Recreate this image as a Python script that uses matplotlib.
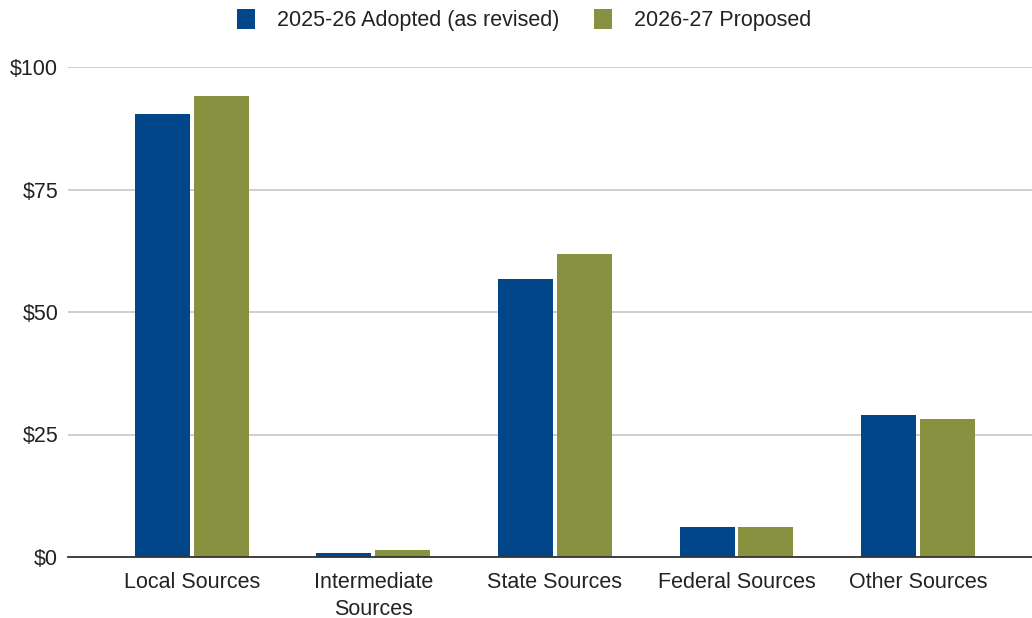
import numpy as np
import matplotlib
matplotlib.use("Agg")
import matplotlib.pyplot as plt
from matplotlib.patches import Patch

# revenue by source, millions of dollars
categories = ["Local Sources", "Intermediate\nSources", "State Sources",
              "Federal Sources", "Other Sources"]
adopted_2526 = [90.4, 0.8, 56.7, 6.2, 29.0]
proposed_2627 = [94.1, 1.5, 61.8, 6.2, 28.2]
series_labels = ["2025-26 Adopted (as revised)", "2026-27 Proposed"]
y_ticks = [0, 25, 50, 75, 100]
y_tick_labels = ["$0", "$25", "$50", "$75", "$100"]

BLUE = "#02468a"
GREEN = "#87913f"

plt.rcParams["font.family"] = ["Liberation Sans", "DejaVu Sans"]

fig = plt.figure(figsize=(10.32, 6.18), dpi=100)
ax = fig.add_axes([68 / 1032, 61 / 618, 964 / 1032, 490 / 618])

x = np.arange(len(categories))
w = 0.303
off = 0.1625
ax.bar(x - off, adopted_2526, width=w, color=BLUE, zorder=3)
ax.bar(x + off, proposed_2627, width=w, color=GREEN, zorder=3)

ax.set_xlim(-0.683, 4.628)
ax.set_ylim(0, 100)
ax.set_yticks(y_ticks)
ax.set_yticklabels(y_tick_labels)
ax.set_xticks(x)
ax.set_xticklabels(categories, linespacing=1.35)
ax.tick_params(axis="both", length=0, labelsize=15.5, colors="#222222")
ax.tick_params(axis="x", pad=11)
ax.tick_params(axis="y", pad=7)

ax.grid(axis="y", color="#cccccc", linewidth=1.3, zorder=0)
for s in ["top", "right", "left"]:
    ax.spines[s].set_visible(False)
ax.spines["bottom"].set_color("#333333")
ax.spines["bottom"].set_linewidth(1.3)
ax.spines["bottom"].set_zorder(4)

handles = [Patch(facecolor=BLUE), Patch(facecolor=GREEN)]
fig.legend(handles, series_labels, loc="center",
           bbox_to_anchor=(0.5 + 8 / 1032, 1 - 20 / 618),
           ncol=2, frameon=False, fontsize=15.5, handlelength=0.85, handleheight=1.1,
           handletextpad=1.0, columnspacing=1.6, labelcolor="#222222")

fig.savefig("out.png", dpi=100)
